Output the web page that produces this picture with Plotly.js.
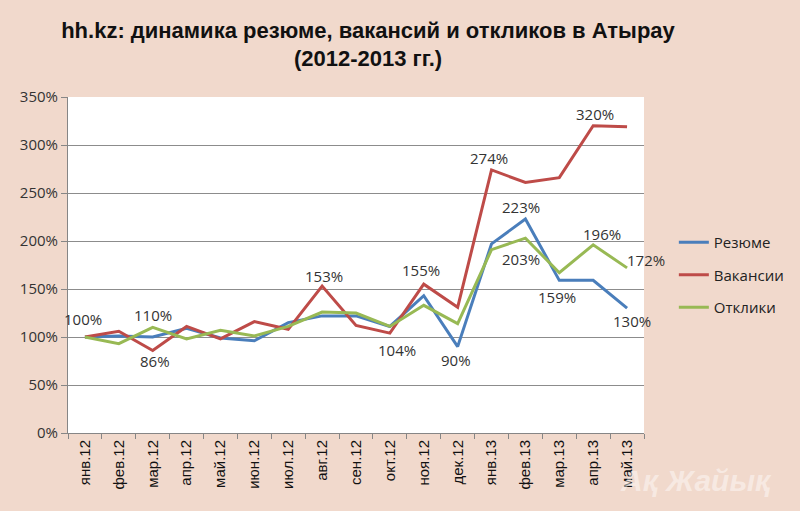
<!DOCTYPE html>
<html>
<head>
<meta charset="utf-8">
<script src="https://cdn.plot.ly/plotly-3.0.1.min.js"></script>
<style>html,body{margin:0;padding:0;background:#F1D9CC;}#chart{width:800px;height:511px;}</style>
</head>
<body>
<div id="chart"></div>
<script>
const categories = ["янв.12","фев.12","мар.12","апр.12","май.12","июн.12","июл.12","авг.12","сен.12","окт.12","ноя.12","дек.12","янв.13","фев.13","мар.13","апр.13","май.13"];
const resume    = [100, 101, 100, 109, 99, 96, 115, 122, 122, 111, 143, 90, 197, 223, 159, 159, 130];
const vacancies = [100, 106, 86, 111, 98, 116, 108, 153, 112, 104, 155, 131, 274, 261, 266, 320, 319];
const responses = [100, 93, 110, 98, 107, 101, 111, 126, 125, 111, 133, 114, 191, 203, 167, 196, 172];
const seriesNames = ["Резюме", "Вакансии", "Отклики"];
const yTicks = [0, 50, 100, 150, 200, 250, 300, 350];

// labelled points: index -> [xshift, yshift] in pixels (style only)
const resumeLabels   = {0: [-2, 18], 11: [-2, -13], 13: [-4, 12], 14: [-2, -17], 16: [5, -13]};
const vacancyLabels  = {2: [2, -11], 7: [2, 10], 9: [7, -17], 10: [-3, 14], 12: [-3, 12], 15: [2, 12]};
const responseLabels = {2: [0, 12], 13: [-4, -21], 15: [9, 11], 16: [19, 8]};

const colors = ["#4A7EBB", "#BE4B48", "#98B954"];
const sets = [resume, vacancies, responses];
const specs = [resumeLabels, vacancyLabels, responseLabels];

const traces = sets.map((vals, k) => ({
  x: categories, y: vals, type: "scatter", mode: "lines",
  name: seriesNames[k], legendgroup: "g" + k,
  line: {color: colors[k], width: 3},
  hoverinfo: "skip"
}));

const annotations = [];
sets.forEach((vals, k) => {
  Object.keys(specs[k]).forEach(key => {
    const i = +key;
    const s = specs[k][i];
    annotations.push({
      x: categories[i], y: vals[i], xref: "x", yref: "y",
      text: Math.round(vals[i]) + "%", showarrow: false,
      xshift: s[0], yshift: s[1], xanchor: "center", yanchor: "middle",
      font: {family: "Open Sans, DejaVu Sans, sans-serif", size: 15, color: "#333333"}
    });
  });
});
annotations.push({
  text: "<b><i>Ақ Жайық</i></b>", xref: "paper", yref: "paper",
  x: 1.09, y: -0.14, xanchor: "center", yanchor: "middle", showarrow: false,
  font: {family: "Liberation Sans, Arial, sans-serif", size: 30, color: "rgba(255,255,255,0.45)"}
});

const layout = {
  width: 800, height: 511,
  paper_bgcolor: "#F1D9CC", plot_bgcolor: "#FFFFFF",
  margin: {l: 68, r: 155, t: 97, b: 78},
  title: {
    text: "hh.kz: динамика резюме, вакансий и откликов в Атырау<br>(2012-2013 гг.)",
    font: {family: "Liberation Sans, Arial, sans-serif", size: 22, color: "#111111", weight: "bold"},
    x: 0.46, xanchor: "center", y: 0.926, yanchor: "top"
  },
  showlegend: true,
  legend: {
    x: 1.05, xanchor: "left", y: 0.47, yanchor: "middle",
    font: {family: "Open Sans, DejaVu Sans, sans-serif", size: 15, color: "#222222"},
    bgcolor: "rgba(0,0,0,0)", tracegroupgap: 10, traceorder: "grouped"
  },
  xaxis: {
    type: "category", tickangle: -90,
    ticks: "outside", tickson: "boundaries", ticklen: 5, tickcolor: "#868686",
    showline: true, linecolor: "#868686", linewidth: 1,
    showgrid: false,
    tickfont: {family: "Liberation Sans, Arial, sans-serif", size: 15, color: "#111111"},
    range: [-0.5, categories.length - 0.5], fixedrange: true
  },
  yaxis: {
    range: [0, 350], tickvals: yTicks, ticktext: yTicks.map(v => v + "%"),
    ticks: "outside", ticklen: 6, tickcolor: "#868686",
    showline: true, linecolor: "#868686", linewidth: 1,
    showgrid: true, gridcolor: "#8C8C8C", gridwidth: 1, zeroline: false,
    tickfont: {family: "Open Sans, DejaVu Sans, sans-serif", size: 15, color: "#333333"},
    fixedrange: true
  },
  annotations: annotations
};

Plotly.newPlot("chart", traces, layout, {displayModeBar: false, staticPlot: true});
</script>
</body>
</html>
